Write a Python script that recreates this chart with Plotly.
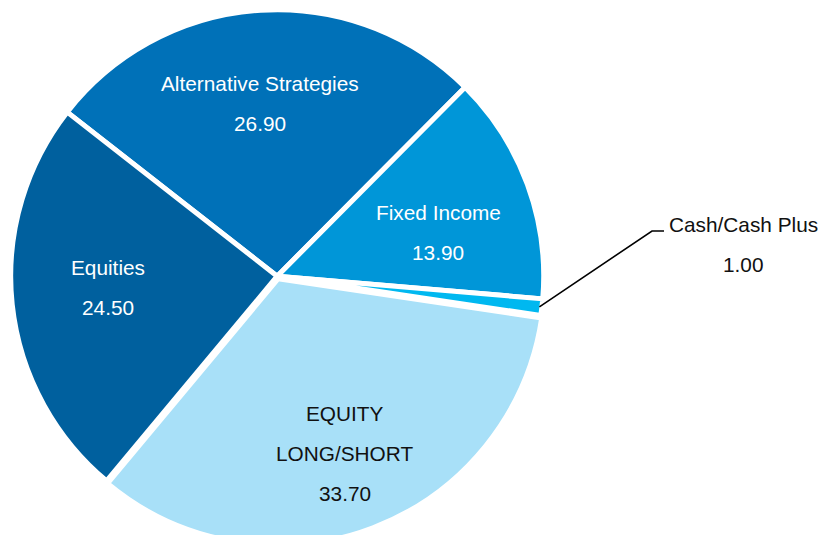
import math
import plotly.graph_objects as go

# Portfolio allocation (%)
categories = ["Alternative Strategies", "Fixed Income", "Cash/Cash Plus",
              "EQUITY<br>LONG/SHORT", "Equities"]
values = [26.90, 13.90, 1.00, 33.70, 24.50]
colors = ["#0071B8", "#0096D8", "#00B8F0", "#A8E0F8", "#00609E"]
label_colors = ["white", "white", "#111111", "#111111", "white"]
pulls = [0, 0, 0, 0.01, 0]

# Layout geometry (pixels)
W, H = 829, 552
CX, CY, R = 277.2, 276.2, 266.5
ROTATION = 308
EDGE_W = 5
FONT = "Arial, Liberation Sans, sans-serif"
FONT_SIZE = 20.8
LINE_GAP = 40
LABEL_FRAC = 0.64
# small per-slice nudges of the inside labels (px)
label_nudge = {
    "Alternative Strategies": (-7, -2),
    "Fixed Income": (1, 15),
    "EQUITY<br>LONG/SHORT": (0, 0),
    "Equities": (0, -7),
}
label_frac = {"EQUITY<br>LONG/SHORT": 0.70}
# outside label for the small slice
outside_label = {"Cash/Cash Plus": {"text_x": 743, "text_y": 244,
                                    "elbow": (652, 231), "end": (664, 231)}}


def to_paper(x, y):
    return x / W, 1 - y / H


half = R * (1 + max(pulls))
fig = go.Figure(go.Pie(
    labels=categories,
    values=values,
    sort=False,
    direction="clockwise",
    rotation=ROTATION,
    pull=pulls,
    marker=dict(colors=colors, line=dict(color="white", width=EDGE_W)),
    textinfo="none",
    hoverinfo="label+value",
    showlegend=False,
    domain=dict(x=[(CX - half) / W, (CX + half) / W],
                y=[1 - (CY + half) / H, 1 - (CY - half) / H]),
))

annotations = []
shapes = []
total = sum(values)
angle = ROTATION
for cat, val, pull, tcol in zip(categories, values, pulls, label_colors):
    span = 360 * val / total
    mid = math.radians(angle + span / 2)
    angle += span
    lines = cat.split("<br>") + [f"{val:.2f}"]
    n = len(lines)
    if cat in outside_label:
        spec = outside_label[cat]
        sx = CX + (R - EDGE_W / 2) * math.sin(mid)
        sy = CY - (R - EDGE_W / 2) * math.cos(mid)
        pts = [to_paper(sx, sy), to_paper(*spec["elbow"]), to_paper(*spec["end"])]
        path = "M " + " L ".join(f"{px:.5f},{py:.5f}" for px, py in pts)
        shapes.append(dict(type="path", path=path, xref="paper", yref="paper",
                           line=dict(color="black", width=1.6)))
        bx, by = spec["text_x"], spec["text_y"]
    else:
        frac = label_frac.get(cat, LABEL_FRAC)
        rr = R * frac + R * pull
        nx, ny = label_nudge.get(cat, (0, 0))
        bx = CX + rr * math.sin(mid) + nx
        by = CY - rr * math.cos(mid) + ny
    for i, line in enumerate(lines):
        ly = by + (i - (n - 1) / 2) * LINE_GAP
        px, py = to_paper(bx, ly)
        annotations.append(dict(
            x=px, y=py, xref="paper", yref="paper", text=line, showarrow=False,
            xanchor="center", yanchor="middle",
            font=dict(family=FONT, size=FONT_SIZE, color=tcol)))

fig.update_layout(
    width=W, height=H, autosize=False,
    margin=dict(l=0, r=0, t=0, b=0, pad=0),
    paper_bgcolor="white", plot_bgcolor="white",
    annotations=annotations, shapes=shapes,
)

fig.write_html(
    "out.html",
    config={"displayModeBar": False},
    post_script="document.documentElement.style.overflow='hidden';"
                "document.body.style.overflow='hidden';"
                "document.body.style.margin='0';",
)
